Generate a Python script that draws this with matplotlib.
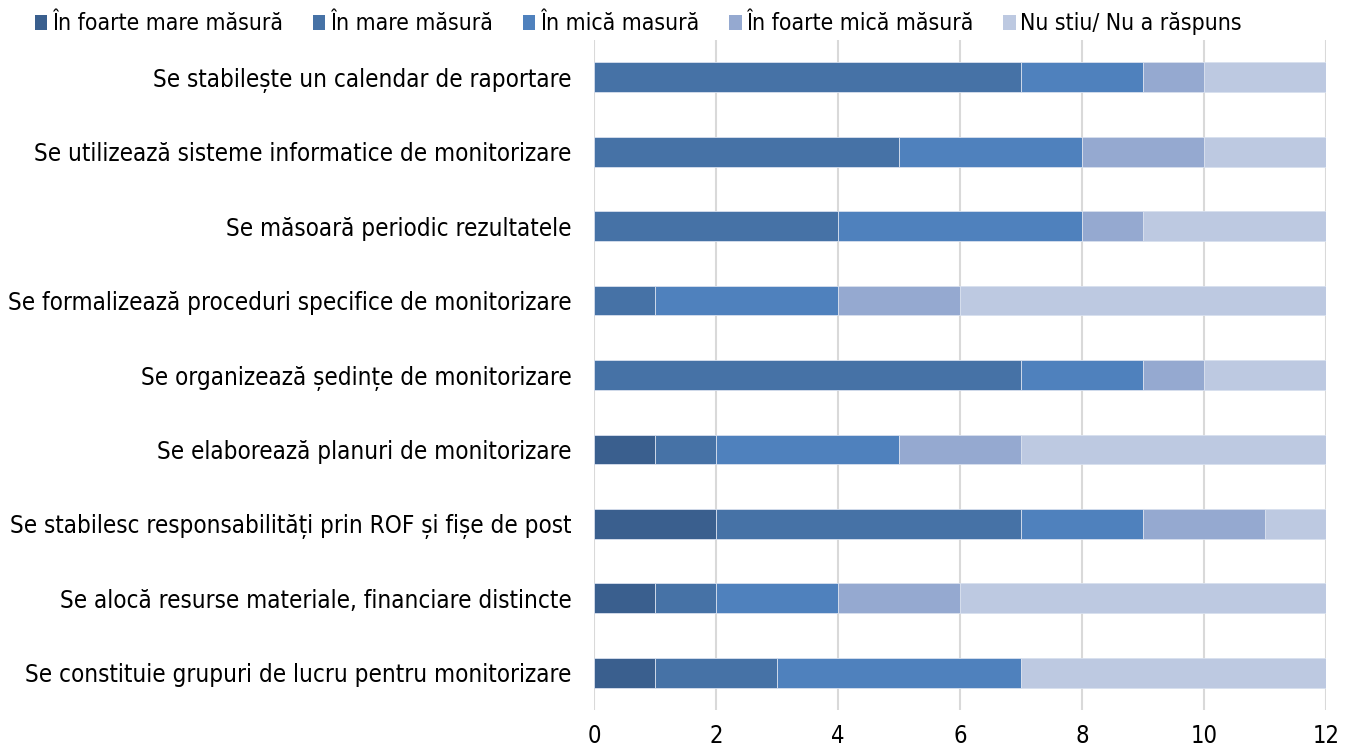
import numpy as np
import matplotlib.pyplot as plt
from matplotlib.patches import Patch

# categories, top to bottom as in the picture
categories = [
    "Se stabilește un calendar de raportare",
    "Se utilizează sisteme informatice de monitorizare",
    "Se măsoară periodic rezultatele",
    "Se formalizează proceduri specifice de monitorizare",
    "Se organizează ședințe de monitorizare",
    "Se elaborează planuri de monitorizare",
    "Se stabilesc responsabilități prin ROF și fișe de post",
    "Se alocă resurse materiale, financiare distincte",
    "Se constituie grupuri de lucru pentru monitorizare",
]
series_names = ["În foarte mare măsură", "În mare măsură", "În mică masură",
                "În foarte mică măsură", "Nu stiu/ Nu a răspuns"]
foarte_mare = [0, 0, 0, 0, 0, 1, 2, 1, 1]
mare = [7, 5, 4, 1, 7, 1, 5, 1, 2]
mica = [2, 3, 4, 3, 2, 3, 2, 2, 4]
foarte_mica = [1, 2, 1, 2, 1, 2, 2, 2, 0]
nu_stiu = [2, 2, 3, 6, 2, 5, 1, 6, 5]
colors = ["#3A5F8E", "#4672A6", "#4F81BD", "#95A9D0", "#BDC9E1"]

fig = plt.figure(figsize=(13.54, 7.48), dpi=100)
ax = fig.add_axes([0.4387, 0.0508, 0.5406, 0.8957])

y = np.arange(len(categories))
left = np.zeros(len(categories))
for vals, name, c in zip([foarte_mare, mare, mica, foarte_mica, nu_stiu], series_names, colors):
    vals = np.array(vals, dtype=float)
    ax.barh(y, vals, left=left, height=0.4, color=c, edgecolor="#D8E0EE",
            linewidth=0.6, label=name, zorder=3)
    left += vals

ax.set_xlim(0, 12)
ax.set_ylim(len(categories) - 0.5, -0.5)
ax.set_xticks(range(0, 13, 2))
ax.set_yticks(y)
ax.set_yticklabels(categories, fontsize=17.4, fontstretch="condensed")
ax.tick_params(axis="x", labelsize=17, length=0, pad=10)
ax.tick_params(axis="y", length=0, pad=16)
for lab in ax.get_xticklabels():
    lab.set_fontstretch("condensed")
ax.grid(axis="x", color="#D9D9D9", linewidth=1.5, zorder=0)
for s in ax.spines.values():
    s.set_visible(False)

handles = [Patch(facecolor=c, edgecolor="none") for c in colors]
fig.legend(handles, series_names, loc="center left", bbox_to_anchor=(0.019, 0.968),
           ncol=5, frameon=False, handlelength=0.55, handleheight=0.6,
           handletextpad=0.2, columnspacing=1.3, borderaxespad=0,
           prop={"size": 16.5, "stretch": "condensed"})

fig.savefig("out.png", dpi=100)
